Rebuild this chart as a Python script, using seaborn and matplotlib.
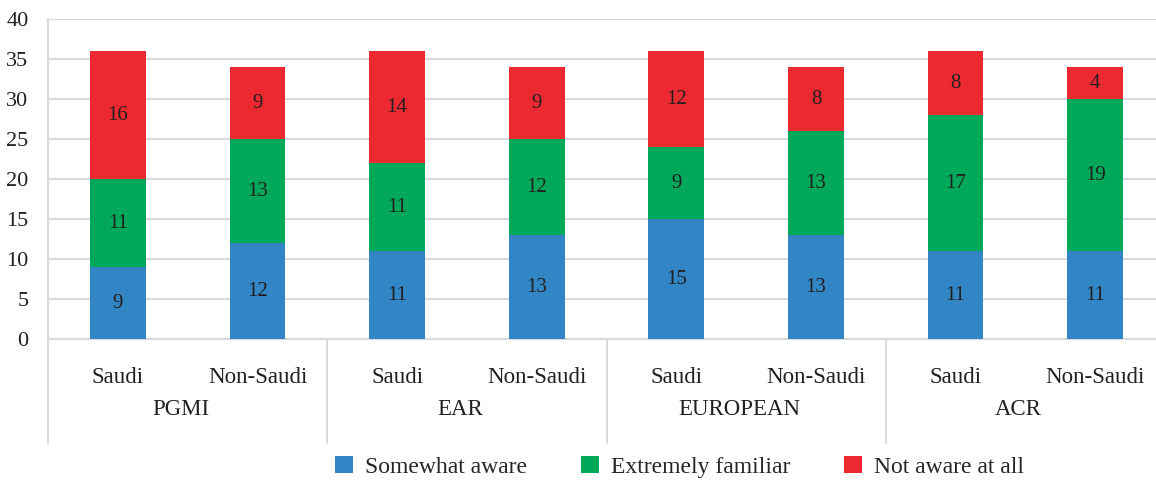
import pandas as pd
import seaborn as sns
import matplotlib
matplotlib.use('Agg')
import matplotlib.pyplot as plt
from matplotlib.patches import Patch

# data
orgs = ["PGMI", "EAR", "EUROPEAN", "ACR"]
groups = ["Saudi", "Non-Saudi"]
somewhat_aware = [9, 12, 11, 13, 15, 13, 11, 11]
extremely_familiar = [11, 13, 11, 12, 9, 13, 17, 19]
not_aware = [16, 9, 14, 9, 12, 8, 8, 4]
series_names = ["Somewhat aware", "Extremely familiar", "Not aware at all"]
colors = ["#3286C6", "#00A859", "#EC2930"]

sns.set_style("white")
plt.rcParams['font.family'] = ['Liberation Serif', 'DejaVu Serif']

bars = [f"{o} {g}" for o in orgs for g in groups]
df = pd.DataFrame({
    "bar": bars,
    "s1": somewhat_aware,
    "s2": extremely_familiar,
    "s3": not_aware,
})
df["c1"] = df["s1"]
df["c2"] = df["s1"] + df["s2"]
df["c3"] = df["c2"] + df["s3"]

fig = plt.figure(figsize=(11.56, 4.8), dpi=100)
ax = fig.add_axes([48 / 1156, 141 / 480, 1117 / 1156, 320 / 480])

# draw back to front: total first, then cumulative layers on top
for col, c in zip(["c3", "c2", "c1"], colors[::-1]):
    sns.barplot(data=df, x="bar", y=col, order=bars, color=c, width=0.4,
                saturation=1, ax=ax, linewidth=0, zorder=3)

# segment labels
for i, row in df.iterrows():
    for val, bottom in [(row["s1"], 0), (row["s2"], row["c1"]), (row["s3"], row["c2"])]:
        ax.text(i, bottom + val / 2, str(val), ha="center", va="center",
                fontsize=15, color="#231F20", zorder=5)

ax.set_ylim(0, 40)
ax.set_xlim(-0.5, len(bars) - 0.5)
ax.set_yticks(range(0, 41, 5))
ax.yaxis.grid(True, color="#D9DADF", linewidth=1.5, zorder=0)
ax.set_axisbelow(True)
ax.tick_params(axis="y", length=0, pad=14, labelsize=16)
ax.tick_params(axis="x", length=0, pad=20, labelsize=16.5)
ax.set_xticks(range(len(bars)))
ax.set_xticklabels([g for o in orgs for g in groups], color="#231F20")
for lab in ax.get_yticklabels():
    lab.set_color("#231F20")
ax.set_xlabel("")
ax.set_ylabel("")

for side in ["top", "right"]:
    ax.spines[side].set_visible(False)
for side in ["left", "bottom"]:
    ax.spines[side].set_color("#D9DADF")
    ax.spines[side].set_linewidth(1.5)

# group separators and group names below the axis
trans = ax.get_xaxis_transform()
for x in [-0.5, 1.5, 3.5, 5.5]:
    ax.plot([x, x], [0, -0.325], color="#D9DADF", lw=1.5, transform=trans, clip_on=False)
for k, o in enumerate(orgs):
    ax.text(2 * k + 0.45, -0.22, o, ha="center", va="center", fontsize=16.5,
            color="#231F20", transform=trans)

handles = [Patch(facecolor=c, edgecolor="none") for c in colors]
fig.legend(handles, series_names, loc="center", bbox_to_anchor=(0.588, 0.028),
           ncol=3, frameon=False, fontsize=17, handlelength=0.75, handleheight=0.75,
           handletextpad=0.5, columnspacing=2.3)

fig.savefig("out.png", dpi=100)
